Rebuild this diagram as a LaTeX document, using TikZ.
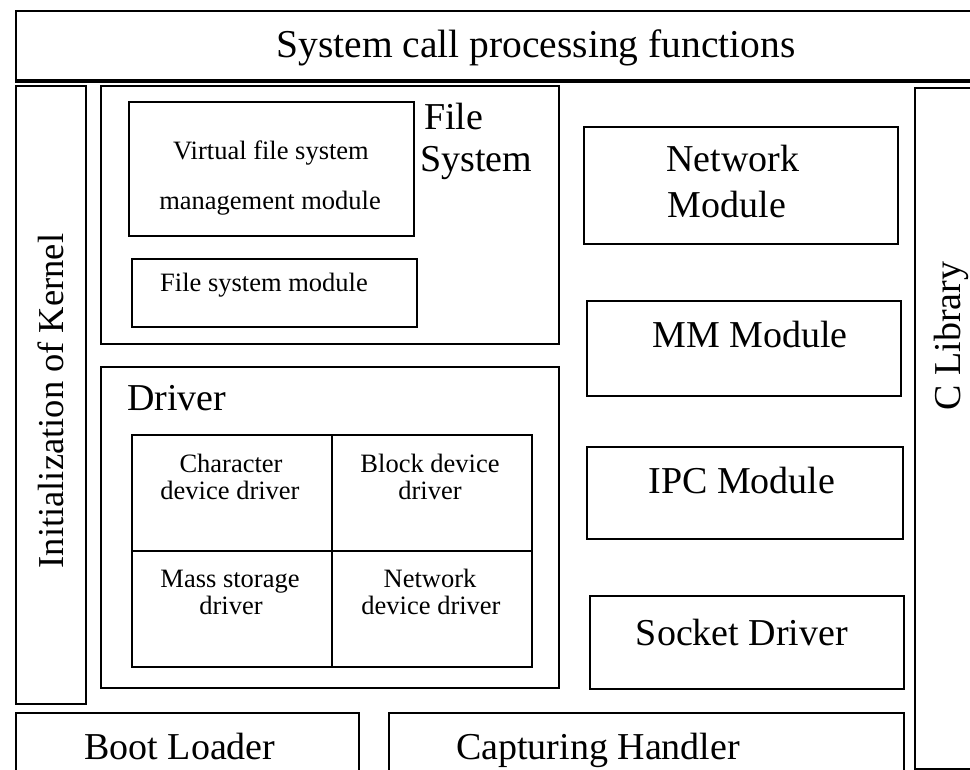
\documentclass[tikz,border=0pt]{standalone}
\usepackage{fontspec}
\setmainfont{Liberation Serif}
\begin{document}
\begin{tikzpicture}[x=1pt,y=-1pt,
  box/.style={draw, line width=2.2pt, inner sep=0pt, anchor=north west},
  big/.style={font=\fontsize{38}{46}\selectfont, inner sep=0pt},
  small/.style={font=\fontsize{26.5}{30}\selectfont, inner sep=0pt}]
\useasboundingbox (0,0) rectangle (970,770);
\clip (0,0) rectangle (970,770);
% outer boxes
\node[box, minimum width=1000pt, minimum height=71pt] (top) at (15,10) {};
\draw[line width=4pt] (15,81) -- (975,81);
\node[box, minimum width=70pt, minimum height=618pt] (kernel) at (15,85) {};
\node[box, minimum width=458pt, minimum height=258pt] (fs) at (100,85) {};
\node[box, minimum width=285pt, minimum height=134pt] (vfs) at (128,101) {};
\node[box, minimum width=285pt, minimum height=68pt] (fsm) at (131,258) {};
\node[box, minimum width=458pt, minimum height=321pt] (drv) at (100,366) {};
\node[box, minimum width=200pt, minimum height=116pt] (c11) at (131,434) {};
\node[box, minimum width=200pt, minimum height=116pt] (c12) at (331,434) {};
\node[box, minimum width=200pt, minimum height=116pt] (c21) at (131,550) {};
\node[box, minimum width=200pt, minimum height=116pt] (c22) at (331,550) {};
\node[box, minimum width=314pt, minimum height=117pt] (net) at (583,126) {};
\node[box, minimum width=314pt, minimum height=95pt] (mm) at (586,300) {};
\node[box, minimum width=316pt, minimum height=92pt] (ipc) at (586,446) {};
\node[box, minimum width=314pt, minimum height=93pt] (sock) at (589,595) {};
\node[box, minimum width=100pt, minimum height=681pt] (clib) at (914,87) {};
\node[box, minimum width=343pt, minimum height=100pt] (boot) at (15,712) {};
\node[box, minimum width=515pt, minimum height=100pt] (capt) at (388,712) {};
% texts
\node[big, font=\fontsize{39.5}{46}\selectfont, anchor=base] (ttop) at (536,58) {System call processing functions};
\node[big, font=\fontsize{36.5}{44}\selectfont, anchor=base, rotate=90] (tkernel) at (63,401) {Initialization of Kernel};
\node[big, anchor=base west] (tfile) at (424,130) {File};
\node[big, anchor=base west] (tsys) at (420,172) {System};
\node[small, anchor=base] (tvfs1) at (271,160) {Virtual file system};
\node[small, anchor=base] (tvfs2) at (270,210) {management module};
\node[small, anchor=base] (tfsm) at (264,292) {File system module};
\node[big, anchor=base west] (tdrv) at (127,410) {Driver};
\node[small, anchor=base] (tc11a) at (231,472) {Character};
\node[small, anchor=base] (tc11b) at (230,499) {device driver};
\node[small, anchor=base] (tc12a) at (430,472) {Block device};
\node[small, anchor=base] (tc12b) at (430,499) {driver};
\node[small, anchor=base] (tc21a) at (230,587) {Mass storage};
\node[small, anchor=base] (tc21b) at (231,614) {driver};
\node[small, anchor=base] (tc22a) at (430,587) {Network};
\node[small, anchor=base] (tc22b) at (431,614) {device driver};
\node[big, anchor=base] (tnet1) at (733,172) {Network};
\node[big, anchor=base] (tnet2) at (727,218) {Module};
\node[big, anchor=base] (tmm) at (750,348) {MM Module};
\node[big, anchor=base] (tipc) at (742,493) {IPC Module};
\node[big, anchor=base] (tsock) at (742,645) {Socket Driver};
\node[big, anchor=base, rotate=90] (tclib) at (960,336) {C Library};
\node[big, anchor=base] (tboot) at (180,759) {Boot Loader};
\node[big, anchor=base] (tcapt) at (598,759) {Capturing Handler};
\end{tikzpicture}
\end{document}
